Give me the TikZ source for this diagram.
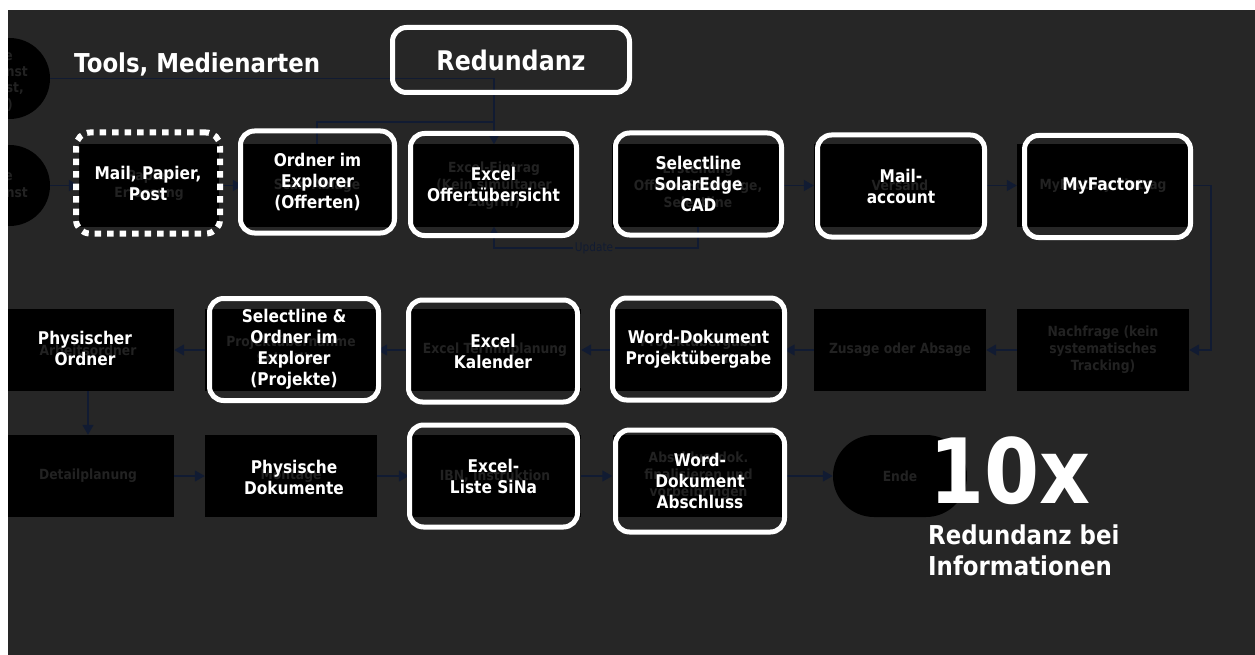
\documentclass[tikz,border=0pt]{standalone}
\usepackage{fontspec}
\setmainfont{DejaVu Sans}[FakeStretch=0.88]
\usetikzlibrary{arrows.meta}

\definecolor{canvas}{RGB}{38,38,38}
\definecolor{faint}{RGB}{34,34,34}
\definecolor{navy}{RGB}{17,27,50}

\begin{document}
\begin{tikzpicture}[x=1pt,y=-1pt,
  bgbox/.style={fill=black,minimum width=172pt,minimum height=82pt,inner sep=2pt,
    text=faint,align=center,font=\bfseries\fontsize{14}{17}\selectfont},
  tool/.style={draw=white,line width=5pt,rounded corners=14pt,minimum width=167pt,
    minimum height=102pt,inner sep=0pt,text=white,align=center,
    font=\bfseries\fontsize{17.5}{21}\selectfont},
  link/.style={navy,line width=1.5pt},
  flow/.style={link,-{Triangle[length=10pt,width=11pt]}}]
  % canvas
  \useasboundingbox (0,0) rectangle (1255,655);
  \fill[white] (0,0) rectangle (1255,655);
  \fill[canvas] (8,10) rectangle (1255,655);

  \begin{scope}
  \clip (8,10) rectangle (1255,655);
  % start points, cut at the left edge
  \node[bgbox,circle,minimum size=81pt] (anfrage1) at (9.5,78.5) {};
  \node[bgbox,circle,minimum size=81pt] (anfrage2) at (9.5,185.5) {};
  \foreach \i/\x/\y/\frag in {1/13/57/e, 2/28/72/nst, 3/24/89/{st,}, 4/13/105/),
                              5/13/177/e, 6/28/193/nst}
    \node[anchor=east,inner sep=0pt,text=faint,font=\bfseries\fontsize{14}{17}\selectfont]
      (frag\i) at (\x,\y) {\frag};

  % process, row 1
  \foreach \name/\x/\w/\txt in {
    erfassung/149/140/{Papier\\Erfassung},
    scan/317/148/{Scan-Ablage},
    eintrag/494/168/{Excel-Eintrag\\(Kein simultaner\\Zugriff)},
    offerte/698/172/{Erstellung\\Offerte SolarEdge,\\Selectline},
    versand/900/172/{Versand},
    myf/1103/172/{MyFactory Eintrag}}
    \node[bgbox,minimum width=\w pt] (\name) at (\x,185.5) {\txt};

  % process, row 2 (right to left)
  \foreach \name/\x/\txt in {
    nachfrage/1103/{Nachfrage (kein\\systematisches\\Tracking)},
    zusage/900/{Zusage oder Absage},
    uebergabe/698.5/{Projektübergabe\\Dokument},
    termin/495/{Excel Terminplanung},
    projekt/291/{Projektübernahme\\Selectline},
    ordner/88/{Arbeitsordner}}
    \node[bgbox] (\name) at (\x,350) {\txt};

  % process, row 3
  \foreach \name/\x/\txt in {
    detail/88/{Detailplanung},
    montage/291/{Montage},
    ibn/495/{IBN, Instruktion},
    abschluss/698.5/{Abschlussdok.\\finalisieren und\\vorbeibringen}}
    \node[bgbox] (\name) at (\x,476) {\txt};
  \node[bgbox,rounded corners=41pt,minimum width=134pt] (ende) at (900,476) {Ende};

  % connectors
  \coordinate (merge) at (494,122);
  \draw[link] (anfrage1.east) -| (merge);
  \draw[flow] (scan.north) |- (merge) -- (eintrag.north);
  \draw[flow] (anfrage2) -- (erfassung);
  \draw[flow] (erfassung) -- (scan);
  \node[fill=canvas,text=navy,inner sep=1.5pt,font=\fontsize{12}{14}\selectfont]
    (updLbl) at (594,248) {Update};
  \draw[link] (offerte.south) |- (updLbl.east);
  \draw[flow] (updLbl.west) -| (eintrag.south);
  \draw[flow] (offerte) -- (versand);
  \draw[flow] (versand) -- (myf);
  \draw[flow] (myf.east) -- ++(22,0) |- (nachfrage.east);
  \foreach \a/\b in {nachfrage/zusage, zusage/uebergabe, uebergabe/termin,
                     termin/projekt, projekt/ordner, ordner/detail,
                     detail/montage, montage/ibn, ibn/abschluss, abschluss/ende}
    \draw[flow] (\a) -- (\b);
  \end{scope}

  % tools on top
  \node[text=white,anchor=west,inner sep=0pt,font=\bfseries\fontsize{26}{30}\selectfont]
    (titel) at (74,64) {Tools, Medienarten};
  \node[tool,minimum width=237pt,minimum height=65pt,
    font=\bfseries\fontsize{27}{32}\selectfont] (redundanz) at (511,60) {Redundanz};
  \node[tool,line width=6pt,dash pattern=on 6.5pt off 6pt,minimum width=144pt,
    minimum height=101pt] (post) at (148,183) {Mail, Papier,\\Post};
  \foreach \name/\x/\y/\w/\txt in {
    ordnerOff/317.5/182/154/{Ordner im\\Explorer\\(Offerten)},
    offUeb/493.5/184.5/166/{Excel\\Offertübersicht},
    selSolar/698.5/184/166/{Selectline\\SolarEdge\\CAD},
    mailAcc/901/186/167/{Mail-\\account},
    myFactory/1107.5/186.5/166/{MyFactory},
    selProj/294/349.5/169/{Selectline \&\\Ordner im\\Explorer\\(Projekte)},
    kalender/493/351/169/{Excel\\Kalender},
    wordUeb/698.5/349/172/{Word-Dokument\\Projektübergabe},
    sina/493.5/476/168/{Excel-\\Liste SiNa},
    wordAbs/700/481/169/{Word-\\Dokument\\Abschluss}}
    \node[tool,minimum width=\w pt] (\name) at (\x,\y) {\txt};
  \node[text=white,align=center,font=\bfseries\fontsize{17.5}{21}\selectfont]
    (physOrdner) at (85,348) {Physischer\\Ordner};
  \node[text=white,align=center,font=\bfseries\fontsize{17.5}{21}\selectfont]
    (physDok) at (294,477) {Physische\\Dokumente};

  % result
  \node[anchor=base west,inner sep=0pt,text=white,font=\bfseries\fontsize{90}{90}\selectfont]
    (faktor) at (929,503) {10x};
  \node[anchor=north west,inner sep=0pt,align=left,text=white,
    font=\bfseries\fontsize{26}{31}\selectfont] (fazit) at (928,525)
    {Redundanz bei\\Informationen};
\end{tikzpicture}
\end{document}
